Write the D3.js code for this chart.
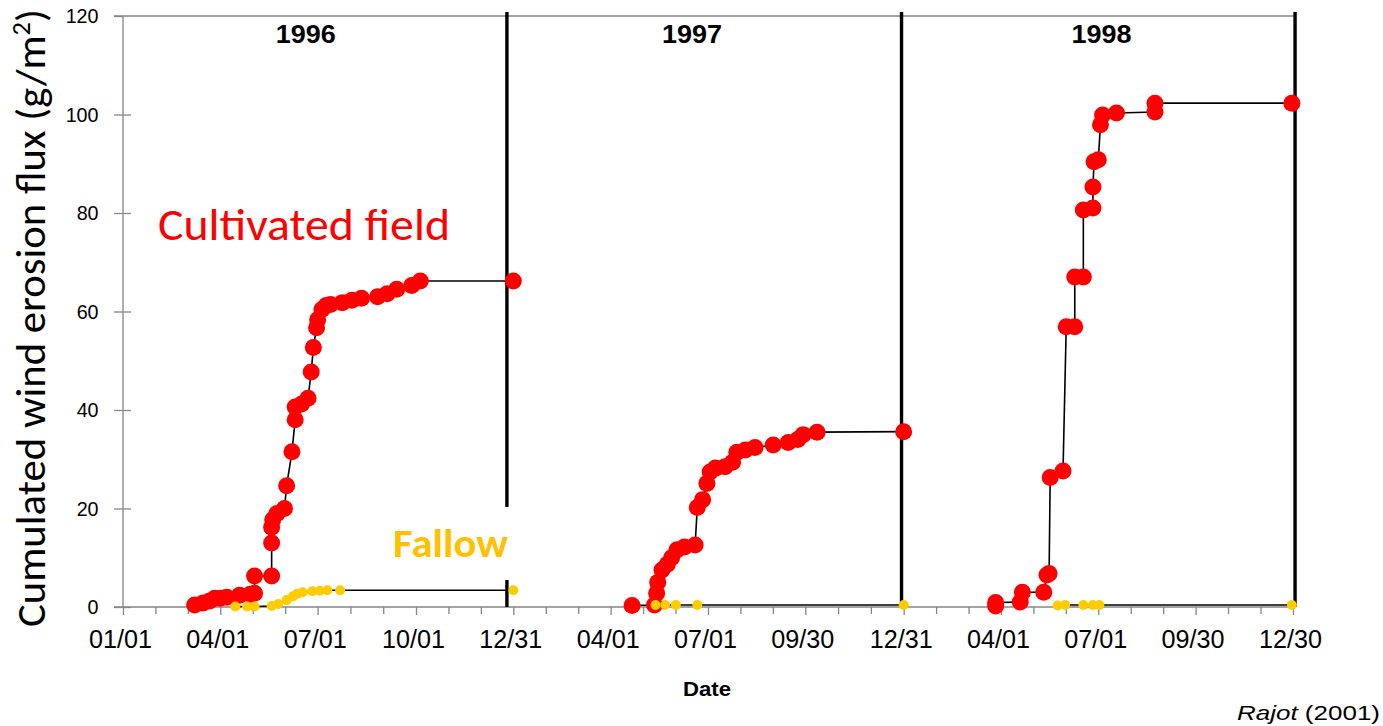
<!DOCTYPE html>
<html>
<head>
<meta charset="utf-8">
<script src="https://cdn.jsdelivr.net/npm/d3@7"></script>
<style>
  html, body { margin: 0; padding: 0; background: #fff; }
  svg { display: block; }
</style>
</head>
<body>
<svg id="chart" width="1383" height="726"></svg>
<script>
// Cumulated wind erosion flux (g/m²), cultivated field vs fallow, 1996–1998
const cultivated1996 = [
  ["1996-03-08", 0.4], ["1996-03-16", 0.8], ["1996-03-22", 1.2], ["1996-03-27", 1.8],
  ["1996-04-01", 1.8], ["1996-04-07", 2.0], ["1996-04-19", 2.4], ["1996-04-29", 2.6],
  ["1996-05-03", 2.8], ["1996-05-03", 6.3], ["1996-05-19", 6.3], ["1996-05-19", 13.0],
  ["1996-05-19", 16.2], ["1996-05-20", 17.7], ["1996-05-24", 19.0], ["1996-05-31", 20.0],
  ["1996-06-02", 24.6], ["1996-06-07", 31.5], ["1996-06-10", 38.0], ["1996-06-10", 40.6],
  ["1996-06-16", 41.2], ["1996-06-22", 42.4], ["1996-06-25", 47.7], ["1996-06-27", 52.7],
  ["1996-06-30", 56.7], ["1996-07-01", 58.3], ["1996-07-05", 60.4], ["1996-07-09", 61.2],
  ["1996-07-13", 61.4], ["1996-07-24", 61.8], ["1996-08-02", 62.3], ["1996-08-11", 62.7],
  ["1996-08-26", 63.0], ["1996-09-04", 63.6], ["1996-09-13", 64.5], ["1996-09-27", 65.3],
  ["1996-10-05", 66.2], ["1996-12-31", 66.2]
];
const cultivated1997 = [
  ["1997-04-21", 0.3], ["1997-05-12", 0.4], ["1997-05-14", 2.8], ["1997-05-15", 5.0],
  ["1997-05-19", 7.5], ["1997-05-24", 8.7], ["1997-05-28", 10.0], ["1997-06-02", 11.6],
  ["1997-06-09", 12.2], ["1997-06-19", 12.6], ["1997-06-21", 20.2], ["1997-06-26", 21.8],
  ["1997-06-30", 25.1], ["1997-07-03", 27.4], ["1997-07-08", 28.2], ["1997-07-17", 28.5],
  ["1997-07-24", 29.4], ["1997-07-28", 31.4], ["1997-08-05", 31.9], ["1997-08-14", 32.4],
  ["1997-08-31", 32.9], ["1997-09-14", 33.4], ["1997-09-23", 34.0], ["1997-09-28", 35.0],
  ["1997-10-11", 35.5], ["1997-12-31", 35.6]
];
const cultivated1998 = [
  ["1998-03-27", 0.2], ["1998-03-27", 0.9], ["1998-04-19", 1.0], ["1998-04-21", 3.0],
  ["1998-05-11", 3.0], ["1998-05-14", 6.5], ["1998-05-16", 6.8], ["1998-05-17", 26.3],
  ["1998-05-29", 27.6], ["1998-06-01", 56.9], ["1998-06-09", 56.9], ["1998-06-09", 67.0],
  ["1998-06-17", 67.0], ["1998-06-17", 80.6], ["1998-06-26", 81.0], ["1998-06-26", 85.3],
  ["1998-06-27", 90.4], ["1998-07-01", 90.8], ["1998-07-03", 97.9], ["1998-07-05", 99.9],
  ["1998-07-18", 100.3], ["1998-08-23", 100.5], ["1998-08-23", 102.3], ["1998-12-29", 102.3]
];
const fallow1996 = [
  ["1996-04-15", 0.1], ["1996-04-26", 0.1], ["1996-05-03", 0.1], ["1996-05-19", 0.2],
  ["1996-05-25", 0.6], ["1996-06-02", 1.4], ["1996-06-08", 2.2], ["1996-06-12", 2.7],
  ["1996-06-17", 3.0], ["1996-06-26", 3.2], ["1996-07-03", 3.3], ["1996-07-10", 3.4],
  ["1996-07-22", 3.4], ["1996-12-31", 3.4]
];
const fallow1997 = [
  ["1997-05-13", 0.4], ["1997-05-22", 0.4], ["1997-06-01", 0.4], ["1997-06-21", 0.4],
  ["1997-12-31", 0.4]
];
const fallow1998 = [
  ["1998-05-24", 0.3], ["1998-05-31", 0.4], ["1998-06-17", 0.4], ["1998-06-26", 0.4],
  ["1998-07-02", 0.4], ["1998-12-29", 0.4]
];

// Axis ticks and annotations
const dateTicks = [
  "1996-01-01", "1996-04-01", "1996-07-01", "1996-10-01", "1996-12-31",
  "1997-04-01", "1997-07-01", "1997-09-30", "1997-12-31",
  "1998-04-01", "1998-07-01", "1998-09-30", "1998-12-30"
];
const valueTicks = [0, 20, 40, 60, 80, 100, 120];
const yearLabels = ["1996", "1997", "1998"];
const yearLabelDates = ["1996-06-20", "1997-06-16", "1998-07-04"];
const yearEnds = ["1996-12-25", "1997-12-29", "1999-01-01"];

const parse = d3.timeParse("%Y-%m-%d");
const fmt = d3.timeFormat("%m/%d");
const toPts = arr => arr.map(([d, v]) => ({ date: parse(d), value: v }));

const svg = d3.select("#chart");
svg.append("rect").attr("width", 1383).attr("height", 726).attr("fill", "#fff");

const x = d3.scaleTime()
  .domain([parse("1996-01-01"), parse("1998-12-31")])
  .range([123, 1294]);
const y = d3.scaleLinear().domain([0, 120]).range([607, 16]);

const GREY = "#868686";
const ARIAL = "'Liberation Sans', Arial, sans-serif";
const CALIBRI = "Carlito, Calibri, Lato, 'Open Sans', sans-serif";

// ---- frame: top border, y axis, x axis baseline
svg.append("line").attr("x1", 114).attr("x2", 1295).attr("y1", y(120)).attr("y2", y(120))
  .attr("stroke", GREY).attr("stroke-width", 1.3);
svg.append("line").attr("x1", 123).attr("x2", 123).attr("y1", y(120)).attr("y2", y(0))
  .attr("stroke", GREY).attr("stroke-width", 1.3);
svg.append("line").attr("x1", 114).attr("x2", 1295).attr("y1", y(0)).attr("y2", y(0))
  .attr("stroke", GREY).attr("stroke-width", 1.6);

// ---- y axis (ticks crossing the axis line)
const yAxisL = d3.axisLeft(y).tickValues(valueTicks).tickSize(9).tickSizeOuter(0).tickPadding(16);
const gy = svg.append("g").attr("transform", "translate(123,0)").call(yAxisL);
gy.select(".domain").remove();
gy.selectAll(".tick line").attr("stroke", GREY).attr("stroke-width", 1.3);
gy.selectAll(".tick text")
  .attr("font-family", ARIAL).attr("font-size", 21).attr("fill", "#000")
  .attr("transform", "scale(0.94,1)").attr("x", -26);
const yAxisR = d3.axisRight(y).tickValues(valueTicks.filter(v => v < 120)).tickSize(8).tickFormat("");
const gy2 = svg.append("g").attr("transform", "translate(123,0)").call(yAxisR);
gy2.select(".domain").remove();
gy2.selectAll(".tick line").attr("stroke", GREY).attr("stroke-width", 1.3);

// ---- x axis: quarterly labelled ticks plus two unlabelled ticks in between
const majorDates = dateTicks.map(parse);
const minorDates = [];
for (let i = 0; i < majorDates.length - 1; i++) {
  const a = +majorDates[i], b = +majorDates[i + 1];
  minorDates.push(new Date(a + (b - a) / 3), new Date(a + 2 * (b - a) / 3));
}
const gxMinor = svg.append("g").attr("transform", `translate(0,${y(0)})`)
  .call(d3.axisBottom(x).tickValues(minorDates).tickSize(7).tickSizeOuter(0).tickFormat(""));
gxMinor.select(".domain").remove();
gxMinor.selectAll(".tick line").attr("stroke", GREY).attr("stroke-width", 1.3);

const gx = svg.append("g").attr("transform", `translate(0,${y(0)})`)
  .call(d3.axisBottom(x).tickValues(majorDates).tickSize(8).tickSizeOuter(0).tickFormat(fmt));
gx.select(".domain").remove();
gx.selectAll(".tick line").attr("stroke", GREY).attr("stroke-width", 1.3);
gx.selectAll(".tick text")
  .attr("font-family", ARIAL).attr("font-size", 25).attr("fill", "#000")
  .attr("y", 41).attr("dy", 0).attr("dx", -3)
  .attr("textLength", 63).attr("lengthAdjust", "spacingAndGlyphs");

// ---- year separators
yearEnds.forEach(d => {
  svg.append("line")
    .attr("x1", x(parse(d))).attr("x2", x(parse(d)))
    .attr("y1", 12).attr("y2", y(0))
    .attr("stroke", "#000").attr("stroke-width", 3.4);
});

// ---- year labels
yearLabels.forEach((t, i) => {
  svg.append("text")
    .attr("x", x(parse(yearLabelDates[i]))).attr("y", 43)
    .attr("text-anchor", "middle")
    .attr("font-family", ARIAL).attr("font-weight", "bold").attr("font-size", 25)
    .attr("textLength", 60).attr("lengthAdjust", "spacingAndGlyphs")
    .text(t);
});

// ---- series
const line = d3.line().x(d => x(d.date)).y(d => y(d.value));
function drawSeries(arr, color, r) {
  const pts = toPts(arr);
  svg.append("path").datum(pts).attr("d", line)
    .attr("fill", "none").attr("stroke", "#000").attr("stroke-width", 1.6);
  svg.append("g").selectAll("circle").data(pts).join("circle")
    .attr("cx", d => x(d.date)).attr("cy", d => y(d.value)).attr("r", r)
    .attr("fill", color);
}
[cultivated1996, cultivated1997, cultivated1998].forEach(s => drawSeries(s, "#ff0000", 8.5));
[fallow1996, fallow1997, fallow1998].forEach(s => drawSeries(s, "#ffcc00", 5));

// ---- series labels
svg.append("rect").attr("x", 388).attr("y", 507).attr("width", 125).attr("height", 73).attr("fill", "#fff");
svg.append("text").attr("x", 393).attr("y", 557)
  .attr("font-family", CALIBRI).attr("font-weight", "bold").attr("font-size", 40)
  .attr("fill", "#ffc000")
  .attr("textLength", 115).attr("lengthAdjust", "spacingAndGlyphs")
  .text("Fallow");
svg.append("text").attr("x", 158).attr("y", 240)
  .attr("font-family", CALIBRI).attr("font-size", 46)
  .attr("fill", "#ff0000")
  .attr("textLength", 292).attr("lengthAdjust", "spacingAndGlyphs")
  .text("Cultivated field");

// ---- axis titles
const yTitle = svg.append("text")
  .attr("transform", "translate(45,318) rotate(-90)")
  .attr("text-anchor", "middle")
  .attr("font-family", CALIBRI).attr("font-size", 42).attr("fill", "#000")
  .attr("textLength", 618).attr("lengthAdjust", "spacingAndGlyphs");
yTitle.append("tspan").text("Cumulated wind erosion flux (g/m");
yTitle.append("tspan").attr("font-size", 26).attr("dy", -15).text("2");
yTitle.append("tspan").attr("dy", 15).text(")");

svg.append("text").attr("x", 707).attr("y", 696)
  .attr("text-anchor", "middle")
  .attr("font-family", ARIAL).attr("font-weight", "bold").attr("font-size", 21)
  .attr("textLength", 48).attr("lengthAdjust", "spacingAndGlyphs")
  .text("Date");

// ---- source
const src = svg.append("text").attr("x", 1380).attr("y", 720)
  .attr("text-anchor", "end")
  .attr("font-family", ARIAL).attr("font-size", 21).attr("fill", "#000")
  .attr("textLength", 143).attr("lengthAdjust", "spacingAndGlyphs");
src.append("tspan").attr("font-style", "italic").text("Rajot");
src.append("tspan").text(" (2001)");
</script>
</body>
</html>
